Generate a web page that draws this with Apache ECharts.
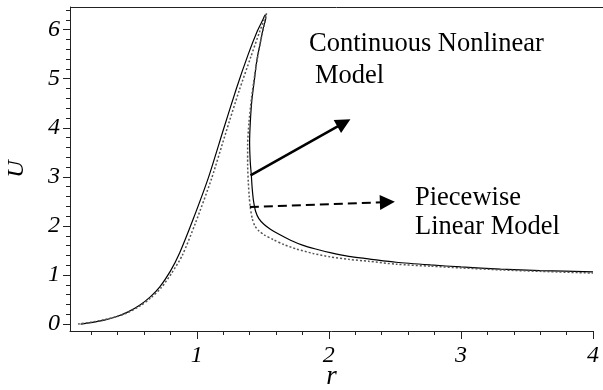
<!DOCTYPE html>
<html>
<head>
<meta charset="utf-8">
<script src="https://cdn.jsdelivr.net/npm/echarts@6/dist/echarts.min.js"></script>
<style>html,body{margin:0;padding:0;background:#fff}#c{width:603px;height:390px}</style>
</head>
<body>
<div id="c"></div>
<script>
// Continuous nonlinear model (solid)
const solidR = [0.12,0.20,0.30,0.39,0.48,0.57,0.65,0.72,0.80,0.87,0.97,1.09,1.20,1.30,1.39,1.46,1.50,1.518,
  1.522,1.505,1.48,1.455,1.435,1.417,1.405,1.40,1.405,1.413,1.42,1.43,1.445,1.47,1.51,1.56,1.63,1.71,1.80,1.90,2.01,2.15,2.30,2.51,2.77,3.0,3.3,3.6,4.0];
const solidU = [0.00,0.03,0.08,0.15,0.25,0.39,0.56,0.76,1.08,1.45,2.12,3.00,3.95,4.80,5.50,5.98,6.20,6.30,
  6.24,6.05,5.72,5.38,4.95,4.56,4.10,3.70,3.30,3.03,2.75,2.50,2.30,2.15,2.03,1.93,1.82,1.71,1.61,1.53,1.455,1.38,1.33,1.26,1.205,1.165,1.12,1.09,1.065];
// Piecewise linear model (dotted)
const pieceR = [0.10,0.20,0.30,0.39,0.48,0.57,0.65,0.73,0.81,0.89,0.99,1.11,1.22,1.32,1.41,1.475,1.51,1.528,
  1.515,1.49,1.465,1.44,1.415,1.395,1.385,1.385,1.39,1.397,1.405,1.42,1.44,1.47,1.51,1.58,1.66,1.755,1.88,2.01,2.15,2.30,2.51,2.77,3.0,3.3,3.6,4.0];
const pieceU = [0.00,0.04,0.09,0.15,0.24,0.37,0.53,0.74,1.04,1.40,2.06,2.95,3.90,4.75,5.45,5.95,6.20,6.33,
  6.15,5.85,5.50,5.10,4.62,4.10,3.65,3.25,2.90,2.60,2.38,2.15,2.00,1.90,1.82,1.72,1.62,1.53,1.44,1.37,1.32,1.28,1.22,1.18,1.145,1.105,1.075,1.04];
// Axis ticks / labels
const xMajorTicks = [1,2,3,4];
const xMinorTicks = [0.2,0.4,0.6,0.8,1.2,1.4,1.6,1.8,2.2,2.4,2.6,2.8,3.2,3.4,3.6,3.8];
const yMajorTicks = [0,1,2,3,4,5,6];
const yMinorTicks = [0.2,0.4,0.6,0.8,1.2,1.4,1.6,1.8,2.2,2.4,2.6,2.8,3.2,3.4,3.6,3.8,4.2,4.4,4.6,4.8,5.2,5.4,5.6,5.8,6.2,6.4];
// Annotation arrows [r, U]
const solidArrow = [[1.407,3.03],[2.114,4.10]];
const dashArrow = [[1.402,2.385],[2.443,2.485]];

const zip = (a,b)=>a.map((v,i)=>[v,b[i]]);
const serif = 'Liberation Serif, Times New Roman, serif';
const XMIN=0.04, XMAX=4.0, YMIN=-0.14, YMAX=6.46;
const axisCol = '#222';

const chart = echarts.init(document.getElementById('c'), null, {renderer:'canvas'});
chart.setOption({
  animation:false,
  backgroundColor:'#fff',
  grid:{left:70,right:10,top:7,bottom:59,containLabel:false,outerBoundsMode:'none'},
  xAxis:[{
    type:'value',min:XMIN,max:XMAX,position:'bottom',
    name:'r',nameLocation:'middle',nameGap:32,nameMoveOverlap:false,
    nameTextStyle:{fontFamily:serif,fontStyle:'italic',fontSize:27,color:'#000'},
    axisLine:{onZero:false,lineStyle:{color:axisCol,width:1}},
    axisTick:{customValues:xMajorTicks,length:8,lineStyle:{color:axisCol}},
    axisLabel:{customValues:xMajorTicks,margin:13,fontFamily:serif,fontStyle:'italic',fontSize:24,color:'#000'},
    splitLine:{show:false}
  },{
    type:'value',min:XMIN,max:XMAX,position:'bottom',
    axisLine:{show:false,onZero:false},
    axisTick:{customValues:xMinorTicks,length:4,lineStyle:{color:axisCol}},
    axisLabel:{show:false},splitLine:{show:false}
  }],
  yAxis:[{
    type:'value',min:YMIN,max:YMAX,position:'left',
    name:'U',nameLocation:'middle',nameGap:41,nameRotate:90,nameMoveOverlap:false,
    nameTextStyle:{fontFamily:serif,fontStyle:'italic',fontSize:24,color:'#000'},
    axisLine:{show:true,onZero:false,lineStyle:{color:axisCol,width:1}},
    axisTick:{show:true,customValues:yMajorTicks,length:7,lineStyle:{color:axisCol}},
    axisLabel:{customValues:yMajorTicks,margin:10,fontFamily:serif,fontStyle:'italic',fontSize:24,color:'#000'},
    splitLine:{show:false}
  },{
    type:'value',min:YMIN,max:YMAX,position:'left',
    axisLine:{show:false,onZero:false},
    axisTick:{show:true,customValues:yMinorTicks,length:4,lineStyle:{color:axisCol}},
    axisLabel:{show:false},splitLine:{show:false}
  }],
  series:[{
    name:'Continuous Nonlinear Model',type:'line',xAxisIndex:0,yAxisIndex:0,
    data:zip(solidR,solidU),showSymbol:false,smooth:0.25,
    lineStyle:{color:'#000',width:1.2},
    markLine:{silent:true,symbol:['none','triangle'],symbolSize:15,label:{show:false},
      lineStyle:{color:'#000',width:2.5,type:'solid'},
      data:[[{coord:solidArrow[0]},{coord:solidArrow[1]}]]}
  },{
    name:'Piecewise Linear Model',type:'line',xAxisIndex:0,yAxisIndex:0,
    data:zip(pieceR,pieceU),showSymbol:false,smooth:0.25,
    lineStyle:{color:'#555',width:1.5,type:[2,2]},
    markLine:{silent:true,symbol:['none','triangle'],symbolSize:15,label:{show:false},
      lineStyle:{color:'#000',width:2,type:[9,5]},
      data:[[{coord:dashArrow[0]},{coord:dashArrow[1]}]]}
  }],
  graphic:[
    {type:'line',shape:{x1:70,y1:7.5,x2:603,y2:7.5},style:{stroke:axisCol,lineWidth:1},silent:true},
    {type:'text',left:309,top:31,style:{text:'Continuous Nonlinear',font:'26.5px '+serif,fill:'#000'}},
    {type:'text',left:315,top:63,style:{text:'Model',font:'26.5px '+serif,fill:'#000'}},
    {type:'text',left:415,top:185,style:{text:'Piecewise',font:'26.5px '+serif,fill:'#000'}},
    {type:'text',left:415,top:214,style:{text:'Linear Model',font:'26.5px '+serif,fill:'#000'}}
  ]
});
</script>
</body>
</html>
